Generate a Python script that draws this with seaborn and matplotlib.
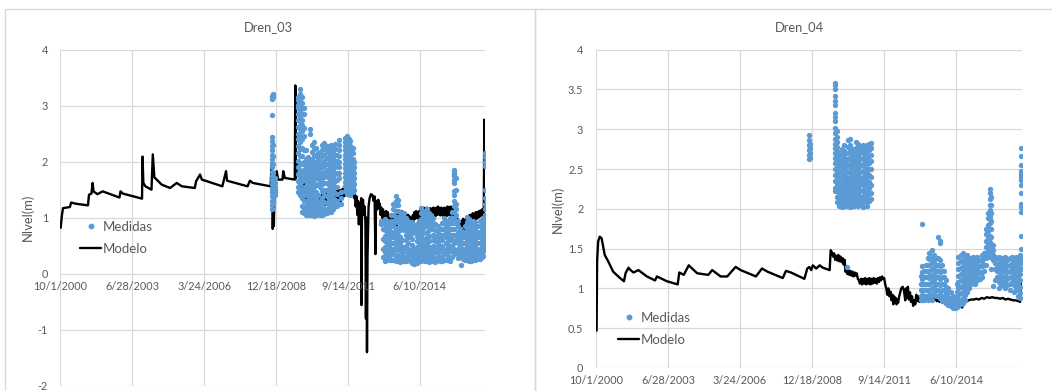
"""Niveles medidos vs modelo en drenes (Dren_03, Dren_04)."""

import matplotlib
matplotlib.use("Agg")
import matplotlib.pyplot as plt
from matplotlib.lines import Line2D
from matplotlib.patches import Rectangle
import numpy as np
import pandas as pd
import seaborn as sns

BLUE = "#5B9BD5"
GREY = "#595959"
GRID = "#d9d9d9"

# ---------------- data (decimal years, level in m) ----------------
tick_labels = ["10/1/2000", "6/28/2003", "3/24/2006", "12/18/2008", "9/14/2011", "6/10/2014"]
x_start = "2000-10-01"
x_end = "2016-11-30"

# Dren_03 model
dren03_mod_year = [
    2000.76, 2000.81, 2000.85, 2001.11, 2001.16, 2001.33, 2001.80, 2001.84, 2001.93, 2001.98,
    2002.01, 2002.16, 2002.36, 2003.00, 2003.04, 2003.13, 2003.86, 2003.88, 2003.91, 2003.99,
    2004.22, 2004.27, 2004.33, 2004.61, 2004.93, 2005.18, 2005.38, 2005.87, 2005.92, 2006.07,
    2006.14, 2006.92, 2007.06, 2007.10, 2007.88, 2007.97, 2008.08, 2008.76, 2008.79, 2008.82,
    2008.84, 2008.86, 2008.88, 2008.91, 2008.94, 2008.99, 2009.04, 2009.21, 2009.24, 2009.30,
    2009.68, 2009.70, 2009.72, 2009.78, 2009.86, 2009.92,
    2009.96, 2009.98, 2010.01, 2010.03, 2010.06, 2010.08, 2010.11, 2010.14, 2010.17, 2010.20,
    2010.23, 2010.26, 2010.29, 2010.32, 2010.35, 2010.38, 2010.41, 2010.44, 2010.47, 2010.50,
    2010.53, 2010.56, 2010.59, 2010.62, 2010.65, 2010.68, 2010.71, 2010.74, 2010.77, 2010.80,
    2010.83, 2010.86, 2010.89, 2010.92, 2010.95, 2010.98, 2011.01, 2011.04, 2011.07, 2011.10,
    2011.13, 2011.16, 2011.19, 2011.22, 2011.25, 2011.28, 2011.31, 2011.34, 2011.37, 2011.40,
    2011.43, 2011.46, 2011.49, 2011.52, 2011.55, 2011.58, 2011.61, 2011.64, 2011.67, 2011.70,
    2011.73, 2011.76, 2011.79, 2011.82, 2011.86, 2011.90, 2011.94, 2011.97,
    2012.00, 2012.03, 2012.06, 2012.09, 2012.12, 2012.15, 2012.18, 2012.21, 2012.22, 2012.24,
    2012.28, 2012.31, 2012.34, 2012.37, 2012.39, 2012.41, 2012.43, 2012.45, 2012.49, 2012.53,
    2012.58, 2012.64, 2012.68, 2012.72, 2012.75, 2012.77, 2012.80, 2012.83, 2012.86, 2012.89,
    2012.92, 2012.95, 2012.98, 2013.01, 2013.04, 2013.07, 2013.10, 2013.13, 2013.16,
    2013.19, 2013.22, 2013.25, 2013.28, 2013.31, 2013.34, 2013.37, 2013.40, 2013.43, 2013.46,
    2013.49, 2013.52, 2013.55, 2013.58, 2013.61, 2013.64, 2013.67, 2013.70, 2013.73, 2013.76,
    2013.79, 2013.82, 2013.85, 2013.88, 2013.91, 2013.94, 2013.97, 2014.00, 2014.03, 2014.06,
    2014.09, 2014.12, 2014.15, 2014.18, 2014.21, 2014.24, 2014.27, 2014.30, 2014.33, 2014.36,
    2014.39, 2014.42, 2014.45, 2014.48, 2014.51, 2014.54, 2014.57, 2014.60, 2014.63, 2014.66,
    2014.69, 2014.72, 2014.75, 2014.78, 2014.81, 2014.84, 2014.87, 2014.90, 2014.93, 2014.96,
    2014.99, 2015.02, 2015.05, 2015.08, 2015.11, 2015.14, 2015.17, 2015.20, 2015.23, 2015.26,
    2015.29, 2015.32, 2015.35, 2015.38, 2015.41, 2015.44, 2015.47, 2015.50, 2015.53, 2015.56,
    2015.59, 2015.62, 2015.65, 2015.68, 2015.71, 2015.74, 2015.77, 2015.80, 2015.83, 2015.86,
    2015.89, 2015.92, 2015.95, 2015.98, 2016.01, 2016.04, 2016.07, 2016.10, 2016.13, 2016.16,
    2016.19, 2016.22, 2016.25, 2016.28, 2016.31, 2016.34, 2016.37, 2016.40, 2016.43, 2016.46,
    2016.49, 2016.52, 2016.55, 2016.58, 2016.61, 2016.64, 2016.67, 2016.70, 2016.73, 2016.76,
    2016.79, 2016.82, 2016.85, 2016.88, 2016.90, 2016.91, 2016.92,
]
dren03_mod_val = [
    0.82, 1.05, 1.17, 1.19, 1.27, 1.25, 1.22, 1.41, 1.43, 1.62,
    1.47, 1.42, 1.47, 1.36, 1.47, 1.43, 1.34, 2.09, 1.62, 1.56,
    1.50, 2.13, 1.72, 1.59, 1.53, 1.62, 1.56, 1.53, 1.65, 1.77,
    1.68, 1.56, 1.83, 1.66, 1.56, 1.66, 1.62, 1.56, 1.92, 1.78,
    0.80, 1.30, 0.85, 1.55, 1.71, 1.83, 1.68, 1.68, 1.83, 1.71,
    1.68, 3.36, 1.70, 2.01, 1.83, 1.75,
    1.55, 1.70, 1.45, 1.62, 1.38, 1.55, 1.30, 1.48, 1.25, 1.45,
    1.32, 1.42, 1.20, 1.40, 1.28, 1.45, 1.25, 1.38, 1.18, 1.35,
    1.22, 1.40, 1.25, 1.36, 1.15, 1.38, 1.20, 1.42, 1.25, 1.40,
    1.22, 1.45, 1.28, 1.42, 1.25, 1.45, 1.30, 1.42, 1.28, 1.45,
    1.30, 1.48, 1.32, 1.45, 1.30, 1.48, 1.35, 1.50, 1.32, 1.48,
    1.28, 1.50, 1.35, 1.52, 1.38, 1.50, 1.40, 1.52, 1.42, 1.53,
    1.40, 1.50, 1.45, 1.52, 1.45, 1.48, 1.35, 1.42,
    1.20, 1.38, 1.05, 1.30, 0.88, 1.25, 1.10, 1.35, -0.56, 1.25,
    1.32, 1.05, 1.20, 0.90, -0.80, 1.00, -1.40, 0.30, 1.20, 1.35,
    1.42, 1.40, 1.30, 1.38, 0.35, 1.10, 1.30, 1.15, 1.32, 1.18,
    1.25, 1.05, 1.18, 1.00, 1.15, 0.95, 1.10, 0.92, 1.12,
    0.92, 1.10, 0.95, 1.05, 0.88, 1.02, 0.90, 1.05, 0.86, 1.02,
    0.88, 1.00, 0.85, 1.05, 0.90, 1.08, 0.92, 1.10, 0.95, 1.12,
    0.98, 1.10, 0.96, 1.08, 0.92, 1.06, 0.90, 1.05, 0.88, 1.02,
    0.90, 1.00, 0.87, 1.05, 0.95, 1.10, 0.98, 1.12, 1.00, 1.10,
    0.98, 1.12, 1.00, 1.18, 1.02, 1.15, 1.03, 1.18, 1.05, 1.16,
    1.02, 1.18, 1.04, 1.15, 1.02, 1.17, 1.03, 1.16, 1.02, 1.18,
    1.05, 1.16, 1.03, 1.18, 1.05, 1.20, 1.06, 1.17, 1.04, 1.18,
    1.05, 1.16, 1.02, 1.18, 1.04, 1.17, 1.03, 1.20, 1.05, 1.18,
    1.04, 1.20, 1.06, 1.18, 1.04, 1.15, 1.00, 1.10, 0.92, 1.00,
    0.82, 0.95, 0.80, 0.92, 0.82, 0.95, 0.85, 0.98, 0.80, 0.95,
    0.85, 1.00, 0.88, 1.02, 0.90, 1.05, 0.92, 1.05, 0.95, 1.08,
    0.96, 1.07, 0.98, 1.10, 0.98, 1.10, 1.00, 1.12, 1.02, 1.13,
    1.04, 1.15, 1.06, 1.15, 2.75, 1.10, 1.15,
]

# Dren_03 measured: one column of readings per date
dren03_med_year = [
    2008.80, 2008.86, 2008.93,
    2009.82, 2009.88, 2009.95, 2010.02,
    2010.10, 2010.17, 2010.25, 2010.33, 2010.41, 2010.49, 2010.57, 2010.65, 2010.73, 2010.81,
    2010.89, 2010.97, 2011.05, 2011.13, 2011.21, 2011.29, 2011.37, 2011.45,
    2011.58, 2011.65, 2011.73, 2011.80, 2011.88, 2011.95,
    2012.97, 2013.05, 2013.12, 2013.20, 2013.28, 2013.36, 2013.44, 2013.52, 2013.60, 2013.68,
    2013.76, 2013.84, 2013.92, 2014.00, 2014.08, 2014.16, 2014.24, 2014.32, 2014.40, 2014.48,
    2014.56, 2014.64, 2014.72, 2014.80, 2014.88, 2014.96, 2015.04, 2015.12, 2015.20, 2015.28,
    2015.36, 2015.44, 2015.52, 2015.60, 2015.68, 2015.75, 2015.82, 2015.90, 2015.98, 2016.02,
    2016.08, 2016.16, 2016.24, 2016.32, 2016.40, 2016.48, 2016.56, 2016.64, 2016.72, 2016.80,
    2016.86, 2016.91,
]
dren03_med_val = [
    [3.18, 3.12, 2.84, 2.44, 2.36, 2.28, 2.20, 2.12, 2.05, 1.98, 1.90, 1.82, 1.75, 1.68, 1.60, 1.52, 1.45, 1.38, 1.30, 1.22, 1.16],
    [3.20, 3.15, 2.30, 2.10, 1.95, 1.80, 1.72, 1.65, 1.58, 1.50, 1.42, 1.35, 1.28],
    [1.70, 1.62, 1.55, 1.50, 1.45, 1.40],
    [3.16, 3.10, 3.02, 2.95, 2.85, 2.75, 2.62, 2.50, 2.40, 2.28, 2.15, 2.02, 1.90, 1.78, 1.65, 1.55, 1.45],
    [3.30, 3.20, 3.14, 3.08, 3.00, 2.90, 2.80, 2.70, 2.58, 2.45, 2.35, 2.22, 2.10, 1.98, 1.85, 1.72, 1.60, 1.48, 1.40],
    [3.15, 3.05, 2.95, 2.85, 2.75, 2.65, 2.55, 2.40, 2.25, 2.10, 1.95, 1.80, 1.65, 1.50, 1.35, 1.20, 1.10],
    [2.95, 2.85, 2.60, 2.45, 2.20, 2.00, 1.85, 1.70, 1.55, 1.42, 1.30, 1.18, 1.08],
    [2.20, 2.05, 1.90, 1.78, 1.65, 1.52, 1.40, 1.30, 1.20, 1.12, 1.05],
    [2.08, 1.95, 1.85, 1.72, 1.60, 1.48, 1.38, 1.28, 1.18, 1.10, 1.04],
    [2.58, 2.50, 2.02, 1.92, 1.80, 1.68, 1.55, 1.45, 1.32, 1.22, 1.12, 1.05],
    [2.30, 2.18, 2.05, 1.95, 1.85, 1.75, 1.62, 1.50, 1.38, 1.25, 1.15, 1.06],
    [2.35, 2.22, 2.10, 1.98, 1.88, 1.78, 1.68, 1.55, 1.42, 1.30, 1.18, 1.08, 1.03],
    [2.25, 2.12, 2.00, 1.90, 1.80, 1.70, 1.58, 1.45, 1.35, 1.22, 1.12, 1.04],
    [2.15, 2.05, 1.95, 1.85, 1.72, 1.60, 1.40, 1.28, 1.15, 1.06],
    [2.18, 2.08, 1.98, 1.88, 1.78, 1.68, 1.55, 1.30, 1.20, 1.10, 1.04],
    [2.30, 2.20, 2.10, 2.00, 1.90, 1.80, 1.70, 1.60, 1.48, 1.36, 1.25, 1.14, 1.05],
    [2.33, 2.22, 2.12, 2.02, 1.92, 1.82, 1.72, 1.62, 1.50, 1.40, 1.28, 1.16, 1.07],
    [2.28, 2.18, 2.06, 1.95, 1.85, 1.74, 1.62, 1.50, 1.38, 1.26, 1.15, 1.08],
    [2.25, 2.15, 2.05, 1.94, 1.82, 1.70, 1.58, 1.46, 1.34, 1.22, 1.12],
    [2.30, 2.20, 2.10, 2.00, 1.88, 1.76, 1.64, 1.52, 1.40, 1.28, 1.17, 1.10],
    [2.26, 2.16, 2.05, 1.95, 1.84, 1.72, 1.60, 1.48, 1.36, 1.25, 1.15],
    [2.32, 2.22, 2.12, 2.02, 1.90, 1.78, 1.66, 1.55, 1.44, 1.32, 1.20],
    [2.12, 2.02, 1.92, 1.80, 1.68, 1.55, 1.42, 1.30, 1.20],
    [2.38, 2.30, 2.20, 2.10, 2.00, 1.90, 1.80, 1.70],
    [1.45, 1.35, 1.25],
    [2.42, 2.35, 2.28, 2.20, 2.12, 2.04, 1.96, 1.88, 1.80, 1.72, 1.64, 1.56, 1.48],
    [2.45, 2.38, 2.30, 2.22, 2.14, 2.06, 1.98, 1.90, 1.82, 1.74, 1.66, 1.58, 1.50, 1.42],
    [2.40, 2.32, 2.24, 2.16, 2.08, 2.00, 1.92, 1.84, 1.76, 1.68, 1.60, 1.52],
    [2.36, 2.28, 2.20, 2.12, 2.04, 1.96, 1.88, 1.80, 1.72, 1.64, 1.56, 1.48, 1.40],
    [2.25, 2.15, 2.05, 1.95, 1.85, 1.75, 1.65, 1.55, 1.45],
    [2.00, 1.90, 1.80, 1.70, 1.60, 1.50],
    [0.95, 0.88],
    [0.92, 0.80, 0.62, 0.45, 0.30],
    [0.98, 0.88, 0.78, 0.68, 0.58, 0.48, 0.38, 0.28, 0.22],
    [0.95, 0.85, 0.75, 0.65, 0.55, 0.45, 0.35, 0.26],
    [0.90, 0.80, 0.70, 0.60, 0.50, 0.40, 0.30, 0.24],
    [1.05, 0.95, 0.85, 0.75, 0.65, 0.55, 0.45, 0.35, 0.25],
    [1.25, 1.15, 1.05, 0.95, 0.85, 0.75, 0.65, 0.55, 0.45, 0.35, 0.25],
    [1.38, 1.30, 1.22, 1.12, 1.02, 0.92, 0.82, 0.72, 0.62, 0.52, 0.42, 0.32, 0.22],
    [1.32, 1.22, 1.12, 1.02, 0.92, 0.82, 0.70, 0.58, 0.46, 0.34, 0.24],
    [1.10, 1.00, 0.90, 0.78, 0.66, 0.54, 0.42, 0.30, 0.21],
    [1.05, 0.95, 0.85, 0.60, 0.48, 0.36, 0.25],
    [1.08, 0.98, 0.88, 0.78, 0.40, 0.30, 0.22],
    [1.00, 0.90, 0.80, 0.70, 0.60, 0.50, 0.40, 0.30, 0.22],
    [0.95, 0.85, 0.75, 0.65, 0.55, 0.45, 0.35, 0.25],
    [0.90, 0.80, 0.70, 0.40, 0.30, 0.22],
    [0.92, 0.82, 0.72, 0.62, 0.52, 0.42, 0.32, 0.20],
    [0.85, 0.75, 0.45, 0.35, 0.25, 0.18],
    [0.88, 0.78, 0.68, 0.58, 0.48, 0.38, 0.28, 0.20],
    [0.95, 0.85, 0.75, 0.65, 0.55, 0.45, 0.35, 0.25],
    [1.17, 1.08, 0.98, 0.88, 0.78, 0.68, 0.58, 0.48, 0.38, 0.28, 0.22],
    [1.12, 1.02, 0.92, 0.82, 0.72, 0.62, 0.52, 0.42, 0.32, 0.24],
    [1.10, 1.00, 0.90, 0.60, 0.50, 0.40, 0.30, 0.22],
    [1.15, 1.05, 0.95, 0.85, 0.75, 0.65, 0.55, 0.45, 0.35, 0.25],
    [1.08, 0.98, 0.88, 0.78, 0.68, 0.58, 0.48, 0.38, 0.28, 0.21],
    [1.05, 0.95, 0.85, 0.45, 0.35, 0.25],
    [1.00, 0.90, 0.80, 0.70, 0.60, 0.50, 0.40, 0.30, 0.22],
    [0.88, 0.78, 0.68, 0.58, 0.48, 0.38, 0.28, 0.21],
    [0.85, 0.75, 0.65, 0.55, 0.45, 0.35, 0.25],
    [0.80, 0.70, 0.60, 0.50, 0.40, 0.30, 0.22],
    [0.90, 0.80, 0.70, 0.60, 0.50, 0.40, 0.30, 0.23],
    [1.00, 0.90, 0.80, 0.70, 0.35, 0.25],
    [0.95, 0.85, 0.75, 0.65, 0.55, 0.45, 0.35, 0.25],
    [0.92, 0.82, 0.72, 0.62, 0.52, 0.42, 0.32, 0.24],
    [1.00, 0.90, 0.80, 0.70, 0.60, 0.50, 0.40, 0.30, 0.22],
    [1.10, 1.00, 0.90, 0.80, 0.70, 0.60, 0.50, 0.40, 0.30],
    [1.86, 1.82, 1.78, 1.74, 1.68, 1.62, 1.48, 1.40, 1.30, 1.20, 1.10, 1.00, 0.90, 0.80, 0.70, 0.55, 0.45, 0.35],
    [1.70, 1.50, 1.25, 1.15, 1.05, 0.95, 0.60, 0.40],
    [0.95, 0.85, 0.75, 0.65, 0.55, 0.45, 0.35, 0.28],
    [0.80, 0.70, 0.60, 0.50, 0.40, 0.30],
    [0.15],
    [0.75, 0.65, 0.55, 0.45, 0.35, 0.27],
    [0.85, 0.75, 0.65, 0.55, 0.45, 0.35, 0.25],
    [1.02, 0.92, 0.82, 0.72, 0.62, 0.52, 0.42, 0.32, 0.24],
    [0.98, 0.88, 0.78, 0.68, 0.58, 0.48, 0.38, 0.28, 0.22],
    [0.90, 0.80, 0.70, 0.60, 0.50, 0.40, 0.30, 0.23],
    [0.95, 0.85, 0.75, 0.65, 0.55, 0.45, 0.35, 0.25],
    [0.92, 0.82, 0.72, 0.62, 0.52, 0.42, 0.32, 0.24],
    [0.85, 0.75, 0.65, 0.55, 0.45, 0.35, 0.27],
    [0.95, 0.85, 0.75, 0.65, 0.55, 0.45, 0.35, 0.26],
    [0.88, 0.78, 0.68, 0.58, 0.48, 0.38, 0.30],
    [1.00, 0.90, 0.80, 0.70, 0.60, 0.50, 0.40, 0.32],
    [2.15, 2.08, 2.00, 1.92, 1.50, 1.35, 1.25, 1.15, 1.05, 0.95, 0.85, 0.75, 0.65, 0.55, 0.45],
]

# Dren_04 model
dren04_mod_year = [
    2000.78, 2000.80, 2000.84, 2000.90, 2000.97, 2001.09, 2001.22, 2001.41, 2001.67, 2001.82,
    2001.88, 2001.99, 2002.07, 2002.18, 2002.37, 2002.69, 2003.00, 2003.07, 2003.45, 2003.86,
    2003.92, 2004.09, 2004.28, 2004.60, 2005.02, 2005.17, 2005.49, 2005.74, 2005.90, 2006.06,
    2006.25, 2006.83, 2007.06, 2007.27, 2007.85, 2007.97, 2008.16, 2008.67, 2008.78, 2008.86,
    2008.93, 2008.99, 2009.12, 2009.25, 2009.37, 2009.63, 2009.67, 2009.72, 2009.76, 2009.80,
    2009.84, 2009.88, 2009.92, 2009.96, 2010.00, 2010.04, 2010.08, 2010.12, 2010.16, 2010.20,
    2010.23, 2010.27, 2010.30, 2010.34, 2010.38, 2010.42, 2010.46, 2010.50, 2010.54, 2010.58,
    2010.62, 2010.66, 2010.70, 2010.74, 2010.78, 2010.82, 2010.86, 2010.90, 2010.94, 2010.98,
    2011.02, 2011.06, 2011.10, 2011.14, 2011.18, 2011.22, 2011.26, 2011.30, 2011.34, 2011.38,
    2011.42, 2011.46, 2011.50, 2011.54, 2011.58, 2011.62, 2011.66, 2011.70, 2011.74, 2011.78,
    2011.82, 2011.86, 2011.90, 2011.94, 2011.98, 2012.02, 2012.05, 2012.08, 2012.11, 2012.14,
    2012.17, 2012.20, 2012.23, 2012.27, 2012.31, 2012.35, 2012.40, 2012.45, 2012.50, 2012.53,
    2012.57, 2012.60, 2012.64, 2012.68, 2012.72, 2012.76, 2012.80, 2012.84, 2012.88, 2012.92,
    2012.96, 2013.00, 2013.04, 2013.08, 2013.12, 2013.16, 2013.20, 2013.25, 2013.30, 2013.35,
    2013.40, 2013.45, 2013.50, 2013.55, 2013.60, 2013.65, 2013.70, 2013.75, 2013.80, 2013.85,
    2013.90, 2013.96, 2014.02, 2014.08, 2014.15, 2014.22, 2014.30, 2014.40, 2014.50, 2014.60,
    2014.66, 2014.72, 2014.80, 2014.90, 2015.00, 2015.10, 2015.20, 2015.30, 2015.40, 2015.50,
    2015.60, 2015.70, 2015.80, 2015.90, 2016.00, 2016.10, 2016.20, 2016.30, 2016.40, 2016.50,
    2016.60, 2016.70, 2016.80, 2016.86, 2016.88, 2016.90,
]
dren04_mod_val = [
    0.47, 1.34, 1.59, 1.65, 1.63, 1.42, 1.34, 1.21, 1.13, 1.09,
    1.19, 1.26, 1.23, 1.20, 1.23, 1.15, 1.10, 1.15, 1.09, 1.05,
    1.20, 1.17, 1.29, 1.19, 1.17, 1.23, 1.15, 1.15, 1.21, 1.27,
    1.23, 1.15, 1.25, 1.21, 1.13, 1.22, 1.20, 1.12, 1.25, 1.27,
    1.23, 1.29, 1.25, 1.29, 1.26, 1.23, 1.48, 1.45, 1.40, 1.44,
    1.36, 1.41, 1.35, 1.42, 1.34, 1.40, 1.33, 1.38, 1.30, 1.36,
    1.21, 1.24, 1.18, 1.23, 1.17, 1.22, 1.16, 1.21, 1.15, 1.20,
    1.16, 1.19, 1.12, 1.10, 1.06, 1.12, 1.05, 1.12, 1.06, 1.13,
    1.05, 1.12, 1.06, 1.13, 1.05, 1.12, 1.06, 1.13, 1.07, 1.12,
    1.06, 1.13, 1.08, 1.14, 1.10, 1.15, 1.12, 1.13, 1.05, 1.00,
    0.92, 1.00, 0.90, 0.96, 0.85, 0.92, 0.80, 0.90, 0.82, 0.88,
    0.80, 0.86, 0.82, 0.90, 0.95, 1.00, 1.02, 0.98, 0.85, 1.00,
    0.88, 1.02, 0.86, 0.95, 0.83, 0.90, 0.78, 0.85, 0.80, 0.92,
    0.84, 0.90, 0.83, 0.88, 0.86, 0.92, 0.89, 0.91, 0.88, 0.90,
    0.87, 0.89, 0.86, 0.88, 0.85, 0.87, 0.84, 0.86, 0.83, 0.85,
    0.82, 0.83, 0.80, 0.81, 0.78, 0.78, 0.76, 0.77, 0.76, 0.78,
    0.76, 0.81, 0.83, 0.85, 0.86, 0.86, 0.87, 0.86, 0.88, 0.87,
    0.89, 0.88, 0.89, 0.88, 0.88, 0.87, 0.88, 0.86, 0.87, 0.86,
    0.85, 0.85, 0.84, 0.83, 0.96, 1.06,
]

# Dren_04 measured
dren04_med_year = [
    2008.86, 2008.90,
    2009.84, 2009.92, 2010.00, 2010.08, 2010.16, 2010.24, 2010.27, 2010.32, 2010.40, 2010.48,
    2010.56, 2010.64, 2010.72, 2010.80, 2010.88, 2010.96, 2011.04, 2011.12, 2011.20,
    2013.08, 2013.13, 2013.20, 2013.27, 2013.35, 2013.42, 2013.50, 2013.58, 2013.66, 2013.74,
    2013.82, 2013.90, 2013.98, 2014.06, 2014.14, 2014.22, 2014.30, 2014.38, 2014.46, 2014.52,
    2014.60, 2014.68, 2014.76, 2014.84, 2014.92, 2015.00, 2015.08, 2015.16, 2015.24, 2015.32,
    2015.40, 2015.48, 2015.56, 2015.64, 2015.70, 2015.76, 2015.82, 2015.90, 2015.98, 2016.06,
    2016.14, 2016.22, 2016.30, 2016.38, 2016.46, 2016.54, 2016.62, 2016.70, 2016.78, 2016.85,
    2016.89,
]
dren04_med_val = [
    [2.93, 2.86, 2.80, 2.74, 2.68, 2.62],
    [2.82, 2.76, 2.70, 2.64],
    [3.58, 3.55, 3.50, 3.42, 3.35, 3.30, 3.20, 3.15, 3.10, 3.02, 2.95, 2.88, 2.82, 2.76, 2.70, 2.64, 2.58, 2.50, 2.42, 2.35, 2.26, 2.22],
    [2.98, 2.90, 2.84, 2.78, 2.72, 2.66, 2.60, 2.52, 2.45, 2.38, 2.30, 2.22, 2.15, 2.08],
    [2.70, 2.62, 2.55, 2.48, 2.40, 2.33, 2.26, 2.18, 2.10, 2.04],
    [2.75, 2.68, 2.60, 2.52, 2.45, 2.38, 2.30, 2.22, 2.15, 2.07, 2.02],
    [2.80, 2.72, 2.65, 2.58, 2.50, 2.42, 2.35, 2.28, 2.20, 2.12, 2.04],
    [2.70, 2.62, 2.56, 2.48, 2.40, 2.33, 2.25, 2.18, 2.10, 2.03],
    [1.27],
    [2.86, 2.78, 2.70, 2.62, 2.54, 2.46, 2.38, 2.30, 2.22, 2.14, 2.06],
    [2.88, 2.80, 2.72, 2.64, 2.56, 2.48, 2.40, 2.32, 2.24, 2.16, 2.08, 2.02],
    [2.75, 2.68, 2.60, 2.52, 2.44, 2.36, 2.28, 2.20, 2.12, 2.04],
    [2.70, 2.62, 2.55, 2.47, 2.40, 2.32, 2.25, 2.17, 2.10, 2.04],
    [2.84, 2.76, 2.68, 2.60, 2.52, 2.44, 2.36, 2.28, 2.20, 2.12, 2.05],
    [2.82, 2.74, 2.66, 2.58, 2.50, 2.42, 2.34, 2.26, 2.18, 2.10, 2.04],
    [2.78, 2.70, 2.62, 2.54, 2.46, 2.38, 2.30, 2.22, 2.14, 2.06],
    [2.80, 2.72, 2.64, 2.56, 2.48, 2.40, 2.32, 2.24, 2.16, 2.08, 2.02],
    [2.76, 2.68, 2.60, 2.52, 2.44, 2.36, 2.28, 2.20, 2.12],
    [2.80, 2.72, 2.64, 2.56, 2.48, 2.40, 2.32, 2.24, 2.16, 2.08, 2.03],
    [2.82, 2.74, 2.66, 2.58, 2.50, 2.42, 2.34, 2.26, 2.18, 2.10],
    [2.83, 2.76, 2.68, 2.60, 2.50, 2.40, 2.30, 2.20, 2.12],
    [1.15, 1.05, 0.98, 0.90, 0.86],
    [1.81, 1.28, 1.20, 1.12, 1.05, 0.98, 0.92, 0.86],
    [1.22, 1.14, 1.06, 0.98, 0.90, 0.85],
    [1.30, 1.22, 1.14, 1.06, 0.98, 0.90],
    [1.38, 1.30, 1.22, 1.14, 1.06, 0.98, 0.90, 0.86],
    [1.45, 1.37, 1.29, 1.21, 1.13, 1.05, 0.97, 0.90],
    [1.48, 1.40, 1.32, 1.24, 1.16, 1.08, 1.00, 0.92, 0.86],
    [1.42, 1.34, 1.26, 1.18, 1.10, 1.02, 0.94],
    [1.38, 1.30, 1.22, 1.14, 1.06, 0.98, 0.90],
    [1.65, 1.38, 1.30, 1.22, 1.14, 1.06, 0.98, 0.90],
    [1.60, 1.57, 1.36, 1.28, 1.20, 1.12, 1.04, 0.96, 0.88],
    [1.30, 1.22, 1.14, 1.06, 0.98, 0.90, 0.84],
    [1.22, 1.14, 1.06, 0.98, 0.90, 0.84],
    [1.10, 1.02, 0.95, 0.88, 0.82],
    [1.00, 0.94, 0.88, 0.82, 0.79],
    [0.95, 0.88, 0.82, 0.78],
    [0.90, 0.84, 0.79, 0.76],
    [0.88, 0.82, 0.78, 0.76],
    [1.05, 0.96, 0.88, 0.80, 0.77],
    [1.40, 1.32, 1.24, 1.16, 1.08, 1.00, 0.92, 0.84, 0.78],
    [1.42, 1.34, 1.26, 1.18, 1.10, 1.02, 0.94, 0.86, 0.80],
    [1.44, 1.36, 1.28, 1.20, 1.12, 1.04, 0.96, 0.88, 0.82],
    [1.40, 1.32, 1.24, 1.16, 1.08, 1.00, 0.92, 0.86],
    [1.42, 1.34, 1.26, 1.18, 1.10, 1.02, 0.95],
    [1.38, 1.30, 1.22, 1.14, 1.06, 1.00],
    [1.36, 1.28, 1.20, 1.12, 1.05],
    [1.40, 1.32, 1.24, 1.16, 1.08],
    [1.38, 1.30, 1.22, 1.14, 1.06],
    [1.40, 1.33, 1.25, 1.17, 1.10],
    [1.36, 1.28, 1.20, 1.12],
    [1.42, 1.35, 1.28, 1.20, 1.14],
    [1.45, 1.38, 1.30, 1.22],
    [1.75, 1.68, 1.60, 1.52, 1.45, 1.38, 1.30],
    [1.95, 1.88, 1.80, 1.72, 1.64, 1.56, 1.48, 1.40],
    [2.25, 2.20, 2.12, 2.05, 1.98, 1.90, 1.82, 1.74, 1.66, 1.58, 1.50, 1.42],
    [2.15, 2.05, 1.95, 1.85, 1.75, 1.65, 1.55, 1.47, 1.40, 1.25],
    [1.55, 1.48, 1.42, 1.36, 1.03],
    [1.40, 1.32, 1.24, 1.10],
    [1.38, 1.30, 1.22, 1.14],
    [1.40, 1.32, 1.24, 1.16, 1.08, 1.00],
    [1.36, 1.28, 1.20, 1.12, 1.04],
    [1.38, 1.30, 1.22, 1.14, 1.06],
    [1.40, 1.32, 1.24, 1.16, 1.08, 1.00],
    [1.36, 1.28, 1.20, 1.12, 1.04],
    [1.38, 1.30, 1.22, 1.14, 1.06, 0.98],
    [1.40, 1.32, 1.24, 1.16, 1.08],
    [1.36, 1.28, 1.20, 1.12, 1.04, 0.96],
    [1.40, 1.32, 1.24, 1.16, 1.08, 1.00],
    [1.38, 1.30, 1.22, 1.14, 1.06, 0.98, 0.90],
    [1.42, 1.34, 1.26, 1.18, 1.10, 1.02, 0.94, 0.88],
    [2.77, 2.66, 2.55, 2.48, 2.44, 2.40, 2.36, 2.30, 2.20, 2.06, 2.02, 1.96, 1.66, 1.50, 1.40, 1.32, 1.24],
]


def to_date(years):
    years = np.asarray(years, dtype=float)
    return pd.Timestamp("2000-01-01") + pd.to_timedelta((years - 2000.0) * 365.25, unit="D")


def model_frame(years, vals):
    return pd.DataFrame({"fecha": to_date(years), "nivel": vals})


def measured_frame(col_years, col_vals):
    yy = [y for y, vs in zip(col_years, col_vals) for _ in vs]
    vv = [v for vs in col_vals for v in vs]
    return pd.DataFrame({"fecha": to_date(yy), "nivel": vv})


def draw_panel(ax, mod, med, yticks, legend_xy):
    sns.lineplot(data=mod, x="fecha", y="nivel", ax=ax, color="black", linewidth=1.7,
                 estimator=None, sort=False, zorder=2, legend=False)
    sns.scatterplot(data=med, x="fecha", y="nivel", ax=ax, color=BLUE, s=15,
                    linewidth=0, zorder=3, legend=False)

    tick_dates = [pd.Timestamp(x_start) + pd.Timedelta(days=1000 * i) for i in range(len(tick_labels))]
    ax.set_xlim(pd.Timestamp(x_start), pd.Timestamp(x_end))
    ax.set_ylim(yticks[0], yticks[-1])
    ax.set_xticks(tick_dates)
    ax.set_xticklabels([])
    ax.set_yticks(yticks)
    ax.set_yticklabels([f"{v:g}" for v in yticks])
    ax.tick_params(length=0, labelsize=7.8, labelcolor=GREY, pad=9)
    ax.grid(True, color=GRID, linewidth=0.9)
    ax.set_axisbelow(True)
    for s in ax.spines.values():
        s.set_visible(False)
    ax.set_xlabel("")
    ax.set_ylabel("")
    # Excel puts the date labels right under the y=0 line
    for d, lab in zip(tick_dates, tick_labels):
        ax.annotate(lab, xy=(d, 0), xytext=(0, -5), textcoords="offset points",
                    ha="center", va="top", fontsize=7.8, color=GREY, annotation_clip=False)

    handles = [Line2D([], [], marker="o", ls="", color=BLUE, markersize=3.2),
               Line2D([], [], color="black", linewidth=1.7)]
    ax.legend(handles, ["Medidas", "Modelo"], loc="upper left",
              bbox_to_anchor=legend_xy, bbox_transform=fig.transFigure,
              frameon=False, fontsize=9.5, labelcolor=GREY, borderpad=0, borderaxespad=0,
              handlelength=1.6, handletextpad=0.15, labelspacing=0.75)


sns.set_style("white")
plt.rcParams["font.family"] = ["Lato", "DejaVu Sans"]

W, H = 1052, 391
fig = plt.figure(figsize=(W / 100, H / 100), dpi=100)
fig.patch.set_facecolor("white")

# chart-area borders (Excel style)
fig.add_artist(Rectangle((5 / W, -0.1), 530 / W, 1.1 - 9 / H, transform=fig.transFigure,
                         fill=False, edgecolor=GRID, linewidth=1))
fig.add_artist(Rectangle((535 / W, -0.1), 0.6, 1.1 - 9 / H, transform=fig.transFigure,
                         fill=False, edgecolor=GRID, linewidth=1))

ax1 = fig.add_axes([60.4 / W, 1 - 385.8 / H, 424.3 / W, 336.2 / H])
ax2 = fig.add_axes([595.8 / W, 1 - 368 / H, 425.7 / W, 318.4 / H])

draw_panel(ax1, model_frame(dren03_mod_year, dren03_mod_val),
           measured_frame(dren03_med_year, dren03_med_val),
           [-2, -1, 0, 1, 2, 3, 4], (80 / W, 1 - 221 / H))
draw_panel(ax2, model_frame(dren04_mod_year, dren04_mod_val),
           measured_frame(dren04_med_year, dren04_med_val),
           [0, 0.5, 1, 1.5, 2, 2.5, 3, 3.5, 4], (618 / W, 1 - 312 / H))

fig.text(268 / W, 1 - 27 / H, "Dren_03", ha="center", va="center", fontsize=9.3, color=GREY)
fig.text(799 / W, 1 - 27 / H, "Dren_04", ha="center", va="center", fontsize=9.3, color=GREY)
fig.text(28 / W, 1 - 217 / H, "NIvel(m)", ha="center", va="center", rotation=90, fontsize=9.3, color=GREY)
fig.text(558 / W, 1 - 209 / H, "NIvel(m)", ha="center", va="center", rotation=90, fontsize=9.3, color=GREY)

fig.savefig("out.png", dpi=100)
plt.close(fig)
